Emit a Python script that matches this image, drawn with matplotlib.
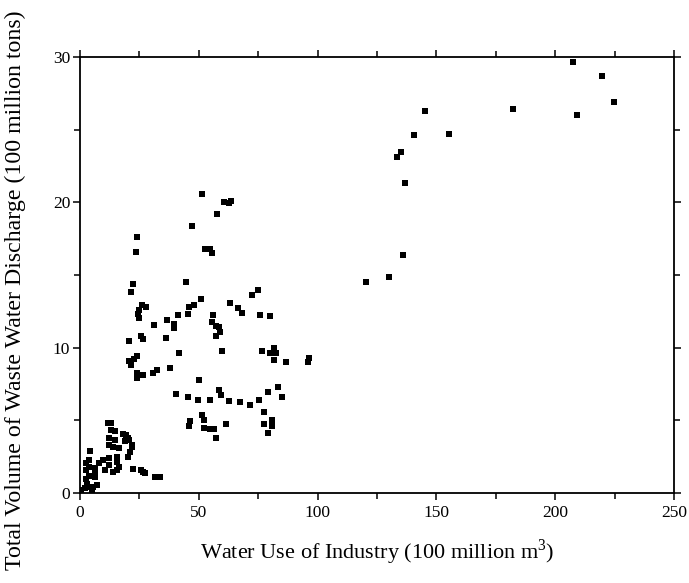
import numpy as np
import matplotlib
matplotlib.use('Agg')
import matplotlib.pyplot as plt
from matplotlib.ticker import MultipleLocator

plt.rcParams['font.family'] = ['Liberation Serif', 'DejaVu Serif']
plt.rcParams['mathtext.fontset'] = 'custom'
plt.rcParams['mathtext.rm'] = 'Liberation Serif'

# water use of industry (100 million m3) vs waste water discharge (100 million tons)
low_x = [0.5, 2.2, 3.1, 4.2, 5.3, 5.0, 7.0, 2.5, 3.9, 6.2, 6.2, 2.5, 3.6, 6.4, 10.6,
         13.7, 15.7, 16.5, 12.3, 2.5, 3.6, 8.1, 9.5, 12.3, 15.4, 15.7, 4.2, 20.2, 21.0,
         16.5, 14.0, 12.3, 21.8, 12.0, 14.8, 18.8, 20.7, 17.9, 19.3, 12.9, 14.8, 11.8,
         13.0, 20.3, 21.7, 22.5, 25.6, 26.6, 27.3, 31.5, 33.6]
low_y = [0.2, 0.32, 0.62, 0.43, 0.39, 0.21, 0.55, 0.94, 1.17, 1.08, 1.4, 1.58, 1.77, 1.7, 1.58,
         1.47, 1.58, 1.81, 1.93, 2.09, 2.27, 2.04, 2.27, 2.39, 2.15, 2.5, 2.91, 2.5, 2.84,
         3.08, 3.19, 3.3, 3.3, 3.76, 3.65, 3.6, 3.65, 4.06, 3.99, 4.34, 4.29, 4.8,
         4.8, 3.76, 3.19, 1.68, 1.58, 1.47, 1.36, 1.12, 1.08]

mid_left_x = [24.2, 23.7, 22.2, 21.4, 25.9, 27.8, 24.8, 24.6, 24.9, 31.2, 36.6, 39.6, 39.6,
              41.2, 45.3, 36.1, 20.6, 25.8, 26.5, 41.6, 23.8, 22.9, 20.5, 21.3, 37.9, 32.6,
              30.8, 24.2, 26.5, 24.2]
mid_left_y = [17.64, 16.6, 14.4, 13.85, 12.97, 12.81, 12.6, 12.35, 12.03, 11.53, 11.9, 11.66, 11.35,
              12.23, 12.3, 10.64, 10.47, 10.8, 10.6, 9.66, 9.45, 9.23, 9.06, 8.8, 8.58, 8.45,
              8.24, 8.24, 8.12, 7.91]

mid_x = [51.3, 60.5, 62.5, 63.7, 57.7, 47.3, 52.6, 54.9, 55.5, 44.6, 75.1, 72.3, 51.0, 47.9,
         46.0, 63.0, 66.4, 68.1, 75.9, 80.1, 56.1, 55.5, 57.4, 58.6, 59.0, 57.1, 59.7, 76.8,
         79.8, 81.5, 82.4, 81.8, 86.6, 96.5, 96.1, 50.1, 40.4, 45.6, 49.6, 54.9, 58.4, 59.4,
         62.7, 67.2, 71.7, 75.4, 79.2, 83.4, 85.0, 77.6, 51.3, 52.0, 46.2, 46.0, 52.3, 54.7,
         56.6, 57.1, 61.6, 77.6, 81.0, 80.8, 79.1]
mid_y = [20.56, 20.03, 19.94, 20.12, 19.22, 18.38, 16.79, 16.79, 16.5, 14.52, 13.97, 13.6, 13.37, 12.97,
         12.82, 13.05, 12.73, 12.37, 12.27, 12.18, 12.23, 11.75, 11.5, 11.4, 11.1, 10.8, 9.78, 9.78,
         9.61, 9.95, 9.61, 9.15, 9.04, 9.31, 9.02, 7.8, 6.84, 6.63, 6.4, 6.4, 7.09, 6.77,
         6.31, 6.26, 6.04, 6.43, 6.92, 7.27, 6.63, 5.55, 5.4, 5.05, 4.95, 4.58, 4.45, 4.42,
         4.4, 3.76, 4.72, 4.75, 5.0, 4.63, 4.11]

high_x = [120.2, 130.0, 136.1, 136.7, 133.5, 135.2, 140.6, 145.1, 155.3, 182.1, 207.3,
          219.9, 224.8, 209.0]
high_y = [14.5, 14.85, 16.4, 21.3, 23.15, 23.45, 24.6, 26.3, 24.7, 26.4, 29.64,
          28.7, 26.9, 26.0]

x_use = low_x + mid_left_x + mid_x + high_x
discharge = low_y + mid_left_y + mid_y + high_y

fig = plt.figure(figsize=(6.89, 5.83), dpi=100)
ax = fig.add_axes([80 / 689, 1 - 493 / 583, 594 / 689, 436 / 583])

ax.plot(x_use, discharge, linestyle='none', marker='s', markersize=4.6,
        color='black', markeredgewidth=0)

ax.set_xlim(0, 250)
ax.set_ylim(0, 30)
ax.xaxis.set_major_locator(MultipleLocator(50))
ax.xaxis.set_minor_locator(MultipleLocator(25))
ax.yaxis.set_major_locator(MultipleLocator(10))
ax.yaxis.set_minor_locator(MultipleLocator(5))

ax.tick_params(which='both', direction='out', top=True, right=True, width=1.1,
               labelsize=12.5)
ax.tick_params(which='major', length=5)
ax.tick_params(which='minor', length=4)
ax.tick_params(axis='y', pad=2)
for s in ax.spines.values():
    s.set_linewidth(1.3)

fig.text(377 / 689, 1 - 552 / 583, 'Water Use of Industry (100 million m$^3$)',
         ha='center', va='center', fontsize=16)
fig.text(15 / 689, 1 - 290 / 583, 'Total Volume of Waste Water Discharge (100 million tons)',
         ha='center', va='center', rotation=90, fontsize=17.2)

fig.savefig('out.png', dpi=100)
